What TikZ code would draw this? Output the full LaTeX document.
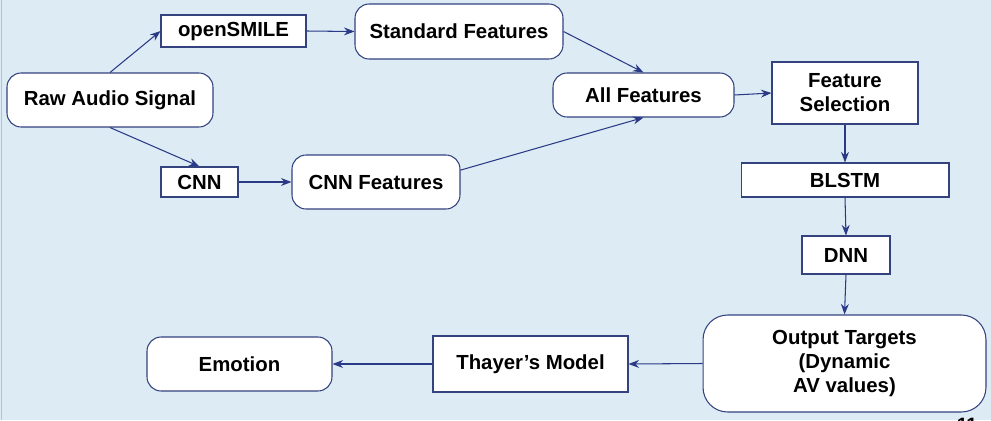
\documentclass[tikz,border=0pt]{standalone}
\usepackage{fontspec}
\setmainfont{Liberation Sans}
\usepackage{tikz}
\usetikzlibrary{arrows.meta}
\definecolor{slideblue}{HTML}{DDECF4}
\definecolor{boxline}{HTML}{34427E}
\definecolor{arrowblue}{HTML}{2B3A86}

\tikzset{
    roundbox/.style={draw=boxline, fill=white, rounded corners=8pt, line width=0.6pt,
        align=center, inner sep=0pt, font=\fontsize{11.6}{13.6}\selectfont\bfseries},
    sharpbox/.style={draw=boxline, fill=white, line width=0.6pt,
        align=center, inner sep=0pt, font=\fontsize{11.6}{13.6}\selectfont\bfseries},
    flow/.style={draw=arrowblue, line width=0.6pt, -{Stealth[length=6pt,width=4.5pt]}}
}

\begin{document}
\begin{tikzpicture}[x=0.02cm, y=-0.02cm]

        % Slide background
        \fill[slideblue] (0,0) rectangle (991,420);
        \useasboundingbox (0,0) rectangle (991,420);
        \draw[black!25, line width=0.4pt] (1.5,0)--(1.5,420);

        % Audio input
        \node[roundbox, minimum width=4.12cm, minimum height=1.08cm] (raw) at (110,100) {Raw Audio Signal};

        % openSMILE branch
        \node[sharpbox, minimum width=2.9cm, minimum height=0.64cm] (smile) at (233.5,31) {openSMILE};
        \node[roundbox, minimum width=4.16cm, minimum height=1.1cm] (stdfeat) at (459,31.5) {Standard Features};

        % CNN branch
        \node[sharpbox, minimum width=1.54cm, minimum height=0.6cm] (cnn) at (199.5,182) {CNN};
        \node[roundbox, minimum width=3.36cm, minimum height=1.08cm] (cnnfeat) at (376,182) {CNN Features};

        % Merged features
        \node[roundbox, minimum width=3.62cm, minimum height=0.88cm] (allfeat) at (643.5,95) {All Features};
        \node[sharpbox, minimum width=2.92cm, minimum height=1.24cm] (featsel) at (845,93) {Feature\\Selection};

        % Networks
        \node[sharpbox, minimum width=4.16cm, minimum height=0.68cm] (blstm) at (845,180) {BLSTM};
        \node[sharpbox, minimum width=1.76cm, minimum height=0.76cm] (dnn) at (846,255) {DNN};

        % Outputs
        \node[roundbox, rounded corners=14pt, minimum width=5.66cm, minimum height=1.94cm] (targets) at (844.5,363.5) {Output Targets\\(Dynamic\\AV values)};
        \node[sharpbox, minimum width=3.9cm, minimum height=1.12cm] (thayer) at (530.5,364) {Thayer’s Model};
        \node[roundbox, minimum width=3.7cm, minimum height=1.08cm] (emotion) at (239.5,364) {Emotion};

        % Connectors
        \draw[flow] (raw.north) -- (smile.west);
        \draw[flow] (raw.south) -- (cnn.north);
        \draw[flow] (smile.east) -- (stdfeat.west);
        \draw[flow] (cnn.east) -- (cnnfeat.west);
        \draw[flow] (stdfeat.east) -- (allfeat.north);
        \draw[flow] (cnnfeat.8) -- (allfeat.south);
        \draw[flow] (allfeat.east) -- (featsel.west);
        \draw[flow] (featsel.south) -- (blstm.north);
        \draw[flow] (blstm.south) -- (dnn.north);
        \draw[flow] (dnn.south) -- (targets.north);
        \draw[flow] (targets.west) -- (thayer.east);
        \draw[flow] (thayer.west) -- (emotion.east);

        % Slide number (cut off by the page edge)
        \begin{scope}
            \clip (0,0) rectangle (991,420);
            \node[font=\fontsize{11}{13}\selectfont\bfseries, anchor=north] (pageno) at (967,412) {11};
        \end{scope}

\end{tikzpicture}
\end{document}
